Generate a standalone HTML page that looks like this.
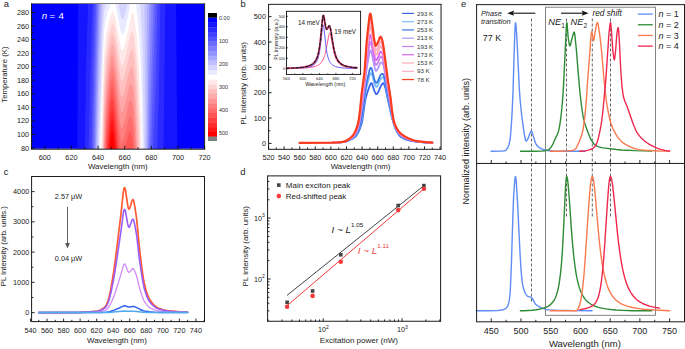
<!DOCTYPE html>
<html><head><meta charset="utf-8"><style>html,body{margin:0;padding:0;background:#fff;overflow:hidden}svg{display:block}</style></head>
<body>
<svg width="685" height="349" viewBox="0 0 685 349" font-family='"Liberation Sans", sans-serif'>
<rect width="685" height="349" fill="#fff"/>
<clipPath id="ca"><rect x="32" y="4" width="172.2" height="144.8"/></clipPath>
<g clip-path="url(#ca)">
<rect x="31.5" y="3.5" width="173.1" height="145.7" fill="#0000ff"/>
<path d="M177.0,151.0 L77.3,151.0 L78.2,1.5 L176.0,1.5 L177.3,148.0 L177.3,151.0 L177.0,151.0Z" fill="#1515ff"/>
<path d="M163.5,151.0 L84.8,151.0 L86.2,67.5 L88.1,1.5 L165.3,1.5 L163.5,151.0Z" fill="#2a2aff"/>
<path d="M156.5,151.0 L88.6,151.0 L90.1,84.0 L92.6,1.5 L160.4,1.5 L158.4,106.0 L157.0,151.0 L156.5,151.0Z" fill="#3f3fff"/>
<path d="M153.0,151.0 L91.3,151.0 L92.8,75.0 L94.7,1.5 L157.7,1.5 L155.9,79.0 L153.0,151.0Z" fill="#5555ff"/>
<path d="M151.0,151.0 L92.8,151.0 L94.2,78.5 L96.3,1.5 L155.5,1.5 L151.0,151.0Z" fill="#6a6aff"/>
<path d="M149.5,151.0 L93.9,151.0 L95.4,77.5 L97.5,1.5 L153.5,1.5 L149.5,151.0Z" fill="#7f7fff"/>
<path d="M148.5,151.0 L95.0,151.0 L96.1,92.0 L98.5,1.5 L151.5,1.5 L149.5,78.5 L148.5,151.0Z" fill="#9494ff"/>
<path d="M147.5,151.0 L95.8,151.0 L96.9,96.5 L99.7,1.5 L149.4,1.5 L148.4,55.5 L147.5,151.0Z" fill="#aaaaff"/>
<path d="M146.5,151.0 L96.6,151.0 L98.5,77.5 L101.0,1.5 L147.2,1.5 L146.5,151.0Z" fill="#bfbfff"/>
<path d="M145.0,151.0 L97.5,151.0 L99.6,80.0 L102.6,1.5 L122.0,1.5 L122.0,3.5 L122.5,4.1 L123.0,4.2 L123.6,3.5 L123.6,1.5 L144.5,1.5 L145.3,113.5 L145.4,151.0 L145.0,151.0Z" fill="#d4d4ff"/>
<path d="M144.0,151.0 L98.7,151.0 L102.7,31.5 L104.0,12.5 L105.7,3.5 L105.7,1.5 L118.1,1.5 L118.1,3.5 L120.5,14.4 L121.5,18.0 L122.5,19.5 L123.5,18.7 L125.0,14.4 L127.6,3.5 L127.6,1.5 L140.1,1.5 L141.6,24.5 L142.6,52.5 L144.0,151.0Z" fill="#e9e9ff"/>
<path d="M142.5,151.0 L99.9,151.0 L102.3,73.0 L104.0,34.0 L104.9,24.5 L106.0,18.5 L108.4,10.0 L111.0,3.5 L111.0,1.5 L114.9,1.5 L114.9,3.5 L116.2,8.0 L120.5,30.2 L121.5,33.7 L122.5,34.9 L123.0,34.7 L124.0,32.7 L125.5,27.4 L128.0,16.4 L130.5,3.5 L130.5,1.5 L135.8,1.5 L138.7,28.5 L140.4,56.0 L141.8,101.5 L142.5,151.0Z" fill="#ffffff"/>
<path d="M141.0,151.0 L101.1,151.0 L103.3,74.5 L104.7,45.5 L105.9,35.0 L107.6,26.0 L109.8,18.0 L111.5,13.1 L112.5,11.5 L113.0,11.6 L113.9,13.0 L115.5,17.6 L120.5,46.0 L121.5,49.5 L122.5,50.3 L123.5,49.0 L125.0,44.3 L131.5,15.1 L132.5,12.3 L133.0,12.5 L134.0,15.8 L136.6,35.0 L139.0,68.5 L140.9,121.0 L141.4,148.0 L141.4,151.0 L141.0,151.0Z" fill="#ffe9e9"/>
<path d="M140.0,151.0 L102.0,151.0 L103.6,89.5 L105.0,60.5 L106.3,48.0 L108.0,37.3 L110.7,26.5 L111.5,23.9 L112.5,22.4 L113.0,22.6 L113.7,24.0 L115.5,30.1 L120.5,61.8 L121.0,64.0 L122.0,65.8 L123.0,65.1 L124.5,61.1 L129.5,39.1 L131.5,32.4 L132.5,30.8 L133.5,33.3 L135.9,52.5 L138.0,82.5 L139.7,126.0 L140.3,148.0 L140.3,151.0 L140.0,151.0Z" fill="#ffd4d4"/>
<path d="M139.0,151.0 L102.8,151.0 L104.0,101.0 L105.5,71.7 L106.9,58.0 L108.7,46.5 L111.0,36.3 L112.0,33.7 L112.5,33.3 L113.7,35.5 L115.5,42.6 L120.5,77.6 L121.0,79.9 L122.0,81.3 L123.0,80.4 L124.5,76.1 L130.0,53.0 L132.0,49.2 L132.5,49.4 L133.0,50.5 L134.8,64.0 L136.6,88.0 L138.5,126.8 L139.2,148.0 L139.0,151.0Z" fill="#ffbfbf"/>
<path d="M138.0,151.0 L103.4,151.0 L104.5,108.4 L106.1,81.0 L107.5,67.2 L109.4,54.5 L111.0,47.1 L112.0,44.5 L112.5,44.2 L113.6,46.5 L115.5,55.2 L120.0,90.2 L121.0,95.8 L121.5,96.8 L122.0,96.9 L122.5,96.5 L124.0,92.8 L130.0,68.8 L131.5,67.0 L132.5,67.9 L133.0,69.6 L134.5,81.8 L135.8,99.5 L138.0,151.0Z" fill="#ffaaaa"/>
<path d="M136.5,151.0 L104.0,151.0 L105.0,115.1 L106.7,89.0 L109.9,63.5 L111.5,56.3 L112.0,55.3 L112.5,55.1 L113.5,57.5 L115.5,67.7 L120.0,105.8 L121.0,111.6 L121.5,112.5 L122.5,111.9 L124.0,107.9 L129.0,87.1 L130.0,84.5 L131.0,84.0 L131.5,84.2 L132.5,86.4 L134.0,96.9 L135.2,113.0 L136.9,148.0 L136.9,151.0 L136.5,151.0Z" fill="#ff9494"/>
<path d="M135.5,151.0 L104.5,151.0 L105.4,124.0 L107.0,99.8 L109.7,76.0 L111.0,68.9 L112.0,66.0 L112.5,66.0 L113.5,68.6 L115.5,80.2 L120.0,121.5 L121.0,127.5 L121.5,128.3 L122.5,127.3 L123.5,124.6 L126.0,115.5 L128.5,104.1 L130.0,100.2 L131.0,100.6 L132.0,103.0 L133.2,109.0 L134.4,122.0 L135.8,148.0 L135.8,151.0 L135.5,151.0Z" fill="#ff7f7f"/>
<path d="M134.5,151.0 L105.1,151.0 L106.0,129.5 L107.5,108.1 L110.0,85.7 L111.0,79.8 L112.0,76.8 L112.5,76.8 L113.5,79.9 L115.5,92.7 L118.5,123.6 L121.0,143.4 L121.5,144.0 L122.0,143.6 L123.0,141.3 L126.0,130.6 L128.5,119.2 L129.5,116.4 L130.0,116.0 L130.8,117.0 L131.5,118.8 L133.0,126.7 L134.5,145.0 L134.5,151.0Z" fill="#ff6a6a"/>
<path d="M119.5,151.0 L105.9,151.0 L106.6,134.0 L108.2,114.0 L110.4,94.5 L111.0,90.7 L112.0,87.6 L112.5,87.7 L113.5,91.2 L115.5,105.3 L119.5,148.0 L119.5,151.0ZM133.0,151.0 L125.4,151.0 L125.4,148.0 L128.5,134.2 L129.5,131.8 L130.0,131.7 L130.5,132.5 L131.8,137.5 L133.2,148.0 L133.0,151.0Z" fill="#ff5555"/>
<path d="M118.0,151.0 L106.7,151.0 L107.5,135.3 L109.4,113.5 L111.0,101.6 L112.0,98.4 L112.5,98.6 L113.5,102.5 L115.5,117.8 L118.0,148.0 L118.0,151.0ZM130.0,151.0 L129.0,151.0 L129.0,148.0 L129.5,147.3 L130.2,148.0 L130.0,151.0Z" fill="#ff3f3f"/>
<path d="M116.5,151.0 L107.6,151.0 L110.0,119.9 L111.0,112.5 L112.0,109.2 L112.5,109.5 L113.5,113.8 L115.5,130.3 L117.0,148.0 L117.0,151.0 L116.5,151.0Z" fill="#ff2a2a"/>
<path d="M115.5,151.0 L108.6,151.0 L110.0,131.0 L111.0,123.4 L112.0,120.0 L112.5,120.4 L113.0,122.2 L114.2,130.5 L116.0,148.0 L116.0,151.0 L115.5,151.0Z" fill="#ff1515"/>
<path d="M114.5,151.0 L109.5,151.0 L110.5,138.0 L111.5,131.8 L112.0,130.8 L112.8,132.5 L113.6,137.0 L114.8,148.0 L114.8,151.0 L114.5,151.0Z" fill="#ff0000"/>
</g>
<line x1="31" y1="3.5" x2="205.1" y2="3.5" stroke="#7a7a7a" stroke-width="1.0"/>
<line x1="31" y1="149.2" x2="205.1" y2="149.2" stroke="#1a1a1a" stroke-width="1.0"/>
<line x1="31.5" y1="3.5" x2="31.5" y2="149.2" stroke="#1a1a1a" stroke-width="1.0"/>
<line x1="204.6" y1="3.5" x2="204.6" y2="149.2" stroke="#1a1a1a" stroke-width="1.0"/>
<line x1="31.5" y1="148" x2="35" y2="148" stroke="#111" stroke-width="0.9"/>
<line x1="31.5" y1="141.22" x2="33.5" y2="141.22" stroke="#111" stroke-width="0.9"/>
<line x1="31.5" y1="134.44" x2="35" y2="134.44" stroke="#111" stroke-width="0.9"/>
<line x1="31.5" y1="127.66" x2="33.5" y2="127.66" stroke="#111" stroke-width="0.9"/>
<line x1="31.5" y1="120.88" x2="35" y2="120.88" stroke="#111" stroke-width="0.9"/>
<line x1="31.5" y1="114.1" x2="33.5" y2="114.1" stroke="#111" stroke-width="0.9"/>
<line x1="31.5" y1="107.32" x2="35" y2="107.32" stroke="#111" stroke-width="0.9"/>
<line x1="31.5" y1="100.54" x2="33.5" y2="100.54" stroke="#111" stroke-width="0.9"/>
<line x1="31.5" y1="93.76" x2="35" y2="93.76" stroke="#111" stroke-width="0.9"/>
<line x1="31.5" y1="86.98" x2="33.5" y2="86.98" stroke="#111" stroke-width="0.9"/>
<line x1="31.5" y1="80.2" x2="35" y2="80.2" stroke="#111" stroke-width="0.9"/>
<line x1="31.5" y1="73.42" x2="33.5" y2="73.42" stroke="#111" stroke-width="0.9"/>
<line x1="31.5" y1="66.64" x2="35" y2="66.64" stroke="#111" stroke-width="0.9"/>
<line x1="31.5" y1="59.86" x2="33.5" y2="59.86" stroke="#111" stroke-width="0.9"/>
<line x1="31.5" y1="53.08" x2="35" y2="53.08" stroke="#111" stroke-width="0.9"/>
<line x1="31.5" y1="46.3" x2="33.5" y2="46.3" stroke="#111" stroke-width="0.9"/>
<line x1="31.5" y1="39.52" x2="35" y2="39.52" stroke="#111" stroke-width="0.9"/>
<line x1="31.5" y1="32.74" x2="33.5" y2="32.74" stroke="#111" stroke-width="0.9"/>
<line x1="31.5" y1="25.96" x2="35" y2="25.96" stroke="#111" stroke-width="0.9"/>
<line x1="31.5" y1="19.18" x2="33.5" y2="19.18" stroke="#111" stroke-width="0.9"/>
<line x1="31.5" y1="12.4" x2="35" y2="12.4" stroke="#111" stroke-width="0.9"/>
<line x1="31.5" y1="149.2" x2="31.5" y2="147.2" stroke="#111" stroke-width="0.9"/>
<line x1="44.82" y1="149.2" x2="44.82" y2="145.7" stroke="#111" stroke-width="0.9"/>
<line x1="58.13" y1="149.2" x2="58.13" y2="147.2" stroke="#111" stroke-width="0.9"/>
<line x1="71.45" y1="149.2" x2="71.45" y2="145.7" stroke="#111" stroke-width="0.9"/>
<line x1="84.76" y1="149.2" x2="84.76" y2="147.2" stroke="#111" stroke-width="0.9"/>
<line x1="98.08" y1="149.2" x2="98.08" y2="145.7" stroke="#111" stroke-width="0.9"/>
<line x1="111.39" y1="149.2" x2="111.39" y2="147.2" stroke="#111" stroke-width="0.9"/>
<line x1="124.71" y1="149.2" x2="124.71" y2="145.7" stroke="#111" stroke-width="0.9"/>
<line x1="138.02" y1="149.2" x2="138.02" y2="147.2" stroke="#111" stroke-width="0.9"/>
<line x1="151.34" y1="149.2" x2="151.34" y2="145.7" stroke="#111" stroke-width="0.9"/>
<line x1="164.65" y1="149.2" x2="164.65" y2="147.2" stroke="#111" stroke-width="0.9"/>
<line x1="177.97" y1="149.2" x2="177.97" y2="145.7" stroke="#111" stroke-width="0.9"/>
<line x1="191.28" y1="149.2" x2="191.28" y2="147.2" stroke="#111" stroke-width="0.9"/>
<line x1="204.6" y1="149.2" x2="204.6" y2="145.7" stroke="#111" stroke-width="0.9"/>
<text x="29.2" y="150.6" font-size="7.3" text-anchor="end" fill="#222">80</text>
<text x="29.2" y="137.04" font-size="7.3" text-anchor="end" fill="#222">100</text>
<text x="29.2" y="123.48" font-size="7.3" text-anchor="end" fill="#222">120</text>
<text x="29.2" y="109.92" font-size="7.3" text-anchor="end" fill="#222">140</text>
<text x="29.2" y="96.36" font-size="7.3" text-anchor="end" fill="#222">160</text>
<text x="29.2" y="82.8" font-size="7.3" text-anchor="end" fill="#222">180</text>
<text x="29.2" y="69.24" font-size="7.3" text-anchor="end" fill="#222">200</text>
<text x="29.2" y="55.68" font-size="7.3" text-anchor="end" fill="#222">220</text>
<text x="29.2" y="42.12" font-size="7.3" text-anchor="end" fill="#222">240</text>
<text x="29.2" y="28.56" font-size="7.3" text-anchor="end" fill="#222">260</text>
<text x="29.2" y="15" font-size="7.3" text-anchor="end" fill="#222">280</text>
<text x="44.82" y="159.8" font-size="7.3" text-anchor="middle" fill="#222">600</text>
<text x="71.45" y="159.8" font-size="7.3" text-anchor="middle" fill="#222">620</text>
<text x="98.08" y="159.8" font-size="7.3" text-anchor="middle" fill="#222">640</text>
<text x="124.71" y="159.8" font-size="7.3" text-anchor="middle" fill="#222">660</text>
<text x="151.34" y="159.8" font-size="7.3" text-anchor="middle" fill="#222">680</text>
<text x="177.97" y="159.8" font-size="7.3" text-anchor="middle" fill="#222">700</text>
<text x="204.6" y="159.8" font-size="7.3" text-anchor="middle" fill="#222">720</text>
<text x="117.8" y="168.9" font-size="7.9" text-anchor="middle" fill="#222">Wavelength (nm)</text>
<text transform="translate(6.6,74.6) rotate(-90)" font-size="7.8" text-anchor="middle" fill="#222">Temperature (K)</text>
<text x="3.8" y="7.2" font-size="9.4" text-anchor="start" fill="#222">a</text>
<text x="41.7" y="19.2" font-size="9.7" fill="#fff"><tspan font-style="italic">n</tspan><tspan x="49.4">=</tspan><tspan x="58.4">4</tspan></text>
<rect x="208" y="13" width="9" height="4.8" fill="#000"/>
<rect x="208" y="17.8" width="9" height="5.05" fill="#0000ff"/>
<rect x="208" y="22.55" width="9" height="5.05" fill="#1515ff"/>
<rect x="208" y="27.3" width="9" height="5.05" fill="#2a2aff"/>
<rect x="208" y="32.06" width="9" height="5.05" fill="#3f3fff"/>
<rect x="208" y="36.81" width="9" height="5.05" fill="#5555ff"/>
<rect x="208" y="41.56" width="9" height="5.05" fill="#6a6aff"/>
<rect x="208" y="46.31" width="9" height="5.05" fill="#7f7fff"/>
<rect x="208" y="51.06" width="9" height="5.05" fill="#9494ff"/>
<rect x="208" y="55.82" width="9" height="5.05" fill="#aaaaff"/>
<rect x="208" y="60.57" width="9" height="5.05" fill="#bfbfff"/>
<rect x="208" y="65.32" width="9" height="5.05" fill="#d4d4ff"/>
<rect x="208" y="70.07" width="9" height="5.05" fill="#e9e9ff"/>
<rect x="208" y="74.82" width="9" height="5.05" fill="#ffffff"/>
<rect x="208" y="79.58" width="9" height="5.05" fill="#ffe9e9"/>
<rect x="208" y="84.33" width="9" height="5.05" fill="#ffd4d4"/>
<rect x="208" y="89.08" width="9" height="5.05" fill="#ffbfbf"/>
<rect x="208" y="93.83" width="9" height="5.05" fill="#ffaaaa"/>
<rect x="208" y="98.58" width="9" height="5.05" fill="#ff9494"/>
<rect x="208" y="103.34" width="9" height="5.05" fill="#ff7f7f"/>
<rect x="208" y="108.09" width="9" height="5.05" fill="#ff6a6a"/>
<rect x="208" y="112.84" width="9" height="5.05" fill="#ff5555"/>
<rect x="208" y="117.59" width="9" height="5.05" fill="#ff3f3f"/>
<rect x="208" y="122.34" width="9" height="5.05" fill="#ff2a2a"/>
<rect x="208" y="127.1" width="9" height="5.05" fill="#ff1515"/>
<rect x="208" y="131.85" width="9" height="5.05" fill="#ff0000"/>
<rect x="208" y="136.6" width="9" height="4.4" fill="#808080"/>
<text x="219" y="19.5" font-size="5.5" text-anchor="start" fill="#333">0.00</text>
<text x="219" y="42.58" font-size="5.5" text-anchor="start" fill="#333">100</text>
<text x="219" y="65.66" font-size="5.5" text-anchor="start" fill="#333">200</text>
<text x="219" y="88.74" font-size="5.5" text-anchor="start" fill="#333">300</text>
<text x="219" y="111.82" font-size="5.5" text-anchor="start" fill="#333">400</text>
<text x="219" y="134.9" font-size="5.5" text-anchor="start" fill="#333">500</text>
<path d="M299.70,143.15 L331.68,142.88 L337.14,142.63 L342.60,142.13 L345.72,141.56 L348.84,140.54 L351.96,139.03 L355.08,137.00 L355.86,136.28 L356.64,135.30 L358.20,132.61 L359.76,129.03 L361.32,124.62 L361.71,123.30 L362.49,119.31 L364.83,102.81 L365.61,98.44 L366.78,94.18 L369.51,86.23 L370.68,83.83 L371.07,83.28 L371.46,83.07 L371.85,83.43 L372.24,84.33 L374.58,91.43 L375.75,93.61 L376.14,94.05 L376.53,94.22 L376.92,94.04 L377.70,92.90 L378.87,90.65 L380.43,86.82 L381.99,84.29 L382.77,83.38 L383.16,83.13 L383.55,83.08 L383.94,83.57 L384.33,84.57 L385.50,88.52 L390.96,113.68 L391.74,116.78 L393.69,123.54 L395.25,128.11 L396.42,130.72 L398.37,134.03 L399.54,135.60 L400.32,136.43 L401.88,137.57 L404.22,138.84 L406.17,139.63 L408.51,140.28 L414.36,141.30 L420.21,142.06 L426.06,142.59 L432.30,142.89" fill="none" stroke="#3c64f0" stroke-width="1.8" stroke-linejoin="round" stroke-linecap="round"/>
<path d="M299.70,143.11 L331.68,142.84 L337.53,142.56 L342.99,142.05 L344.55,141.77 L346.11,141.36 L347.67,140.82 L349.23,140.15 L350.79,139.35 L352.35,138.40 L353.91,137.24 L355.08,136.21 L355.86,135.33 L356.64,134.20 L357.42,132.81 L358.20,131.15 L359.37,127.81 L360.54,123.66 L361.71,118.79 L362.49,114.50 L365.22,94.75 L365.61,92.11 L366.39,87.91 L367.56,83.01 L369.51,75.73 L370.29,73.93 L370.68,73.41 L371.07,73.21 L371.46,73.41 L371.85,74.15 L372.24,75.32 L374.19,82.79 L374.58,83.96 L375.36,85.80 L375.75,86.44 L376.14,86.79 L376.53,86.86 L376.92,86.60 L377.31,86.07 L378.48,83.89 L380.04,80.13 L380.82,78.71 L381.60,77.89 L382.38,77.33 L382.77,77.23 L383.16,77.34 L383.55,77.69 L383.94,78.54 L384.33,79.85 L385.50,84.55 L391.35,113.71 L392.13,117.18 L393.30,121.71 L394.47,125.56 L396.03,129.52 L397.98,132.97 L399.54,135.11 L400.32,135.94 L401.10,136.58 L403.44,138.03 L406.17,139.26 L408.90,140.08 L413.58,141.05 L419.43,141.90 L426.06,142.53 L432.30,142.85" fill="none" stroke="#78befa" stroke-width="1.8" stroke-linejoin="round" stroke-linecap="round"/>
<path d="M299.70,143.09 L332.07,142.81 L337.53,142.54 L342.99,142.03 L344.55,141.74 L346.11,141.31 L347.67,140.73 L349.62,139.83 L351.57,138.71 L352.74,137.90 L353.91,136.93 L355.08,135.79 L355.86,134.83 L356.64,133.61 L357.42,132.14 L358.20,130.37 L358.98,128.01 L360.15,123.65 L361.71,116.38 L362.49,111.93 L363.66,103.76 L365.61,88.74 L366.78,81.89 L369.51,70.13 L369.90,69.01 L370.29,68.25 L370.68,67.85 L371.07,67.84 L371.46,68.26 L371.85,69.20 L372.24,70.51 L373.80,77.15 L374.58,79.97 L375.36,81.98 L375.75,82.61 L376.14,82.91 L376.53,82.93 L376.92,82.63 L377.31,82.08 L378.87,79.02 L380.04,76.09 L380.43,75.30 L380.82,74.76 L381.60,74.16 L382.38,73.88 L382.77,73.94 L383.16,74.25 L383.55,74.82 L383.94,75.86 L384.33,77.33 L385.50,82.43 L388.23,96.95 L391.74,114.89 L393.30,121.43 L394.47,125.35 L396.03,129.28 L397.59,132.11 L399.15,134.37 L400.71,136.02 L403.05,137.58 L405.78,138.91 L408.90,139.93 L413.58,140.99 L419.04,141.81 L425.67,142.47 L432.30,142.83" fill="none" stroke="#3c78e6" stroke-width="1.8" stroke-linejoin="round" stroke-linecap="round"/>
<path d="M299.70,143.02 L332.07,142.75 L337.53,142.48 L342.99,141.96 L344.55,141.64 L346.11,141.14 L347.67,140.47 L349.62,139.41 L351.18,138.40 L352.35,137.51 L353.52,136.39 L354.69,135.00 L355.47,133.89 L356.25,132.54 L357.81,129.06 L358.59,126.52 L359.76,121.01 L362.49,103.92 L363.66,95.70 L364.83,86.14 L366.00,74.46 L367.17,65.91 L369.51,52.64 L369.90,51.26 L370.29,50.51 L370.68,50.47 L371.07,51.06 L371.46,52.17 L371.85,53.72 L372.63,57.47 L374.19,65.97 L374.97,68.91 L375.36,70.04 L375.75,70.66 L376.14,70.81 L376.53,70.66 L376.92,70.23 L378.48,67.29 L380.04,63.45 L380.43,62.77 L380.82,62.43 L381.21,62.38 L381.60,62.51 L382.38,63.12 L382.77,63.68 L383.16,64.60 L383.94,67.48 L385.50,75.81 L387.84,90.08 L390.57,105.22 L391.74,112.83 L392.91,118.80 L394.08,123.50 L394.86,125.78 L396.03,128.56 L396.81,130.05 L397.98,131.97 L398.76,133.07 L399.93,134.46 L400.71,135.21 L401.88,136.10 L403.44,137.08 L405.39,138.11 L406.95,138.79 L408.90,139.47 L413.19,140.70 L418.26,141.58 L425.28,142.34 L432.30,142.77" fill="none" stroke="#b496fa" stroke-width="1.8" stroke-linejoin="round" stroke-linecap="round"/>
<path d="M299.70,142.99 L332.07,142.72 L337.53,142.46 L342.99,141.93 L344.55,141.59 L346.11,141.06 L347.67,140.34 L349.62,139.21 L351.18,138.14 L352.35,137.19 L353.52,135.96 L354.69,134.43 L355.47,133.20 L356.25,131.72 L357.81,127.99 L358.59,125.20 L359.76,119.01 L364.05,88.80 L364.83,81.97 L366.00,68.86 L367.17,59.13 L369.12,46.36 L369.51,44.24 L369.90,42.74 L370.29,41.99 L370.68,42.12 L371.07,43.01 L371.46,44.45 L372.63,50.46 L374.19,59.85 L374.97,63.08 L375.36,64.31 L375.75,64.93 L376.14,64.99 L376.53,64.77 L377.31,63.60 L378.48,61.26 L380.04,57.38 L380.43,56.76 L380.82,56.51 L381.21,56.60 L381.60,56.92 L382.38,57.95 L382.77,58.76 L383.16,59.97 L383.94,63.46 L385.50,72.63 L387.84,87.76 L390.57,103.54 L391.74,111.85 L392.91,118.27 L394.08,123.18 L394.86,125.45 L396.03,128.22 L397.59,131.02 L398.37,132.17 L399.54,133.64 L400.71,134.82 L401.88,135.73 L403.44,136.74 L405.39,137.80 L407.34,138.67 L409.29,139.37 L413.19,140.59 L417.87,141.46 L424.89,142.26 L432.30,142.74" fill="none" stroke="#c882f0" stroke-width="1.8" stroke-linejoin="round" stroke-linecap="round"/>
<path d="M299.70,142.97 L332.07,142.69 L337.53,142.43 L342.99,141.90 L344.55,141.55 L346.11,140.99 L347.67,140.23 L349.62,139.05 L351.18,137.92 L352.35,136.92 L353.52,135.61 L354.69,133.95 L356.25,131.04 L357.81,127.09 L358.59,124.10 L359.76,117.34 L360.15,114.77 L361.32,105.09 L363.27,91.48 L364.44,82.22 L364.83,78.49 L366.00,64.19 L367.17,53.49 L369.12,39.53 L369.51,37.25 L369.90,35.63 L370.29,34.90 L370.68,35.17 L371.07,36.29 L371.46,38.01 L372.63,44.62 L373.80,52.62 L374.19,54.76 L374.97,58.23 L375.36,59.53 L375.75,60.14 L376.14,60.15 L376.53,59.86 L376.92,59.32 L378.48,56.23 L379.65,53.18 L380.04,52.33 L380.43,51.75 L380.82,51.58 L381.21,51.79 L381.60,52.26 L382.38,53.65 L382.77,54.65 L383.55,57.92 L383.94,60.11 L385.50,69.98 L387.84,85.83 L390.57,102.13 L391.74,111.03 L392.91,117.82 L393.69,121.45 L394.47,124.12 L395.64,127.09 L396.81,129.42 L397.59,130.72 L398.76,132.38 L399.93,133.74 L401.10,134.82 L402.66,135.96 L404.61,137.13 L406.56,138.11 L408.51,138.91 L412.80,140.40 L417.48,141.35 L424.89,142.22 L432.30,142.72" fill="none" stroke="#dc64f5" stroke-width="1.8" stroke-linejoin="round" stroke-linecap="round"/>
<path d="M299.70,142.94 L332.07,142.66 L337.92,142.38 L342.99,141.87 L344.55,141.51 L346.11,140.91 L347.67,140.12 L349.23,139.14 L351.18,137.68 L352.35,136.62 L353.52,135.22 L354.30,134.07 L355.47,131.98 L356.25,130.29 L357.81,126.10 L358.59,122.89 L359.37,118.17 L360.15,112.69 L361.71,98.91 L363.66,85.07 L364.44,78.57 L364.83,74.67 L366.00,59.06 L366.78,50.87 L367.56,43.98 L369.51,29.55 L369.90,27.82 L370.29,27.09 L370.68,27.52 L371.07,28.91 L371.46,30.93 L372.63,38.20 L373.80,46.88 L374.58,51.08 L375.36,54.28 L375.75,54.89 L376.14,54.82 L376.53,54.46 L376.92,53.86 L378.48,50.70 L379.65,47.60 L380.04,46.76 L380.43,46.24 L380.82,46.15 L381.21,46.49 L381.60,47.14 L382.38,48.91 L382.77,50.14 L383.16,51.86 L383.94,56.42 L387.84,83.70 L390.57,100.58 L391.74,110.12 L392.52,115.14 L393.30,119.34 L394.08,122.63 L395.25,125.86 L396.42,128.39 L397.59,130.39 L398.76,132.03 L399.93,133.38 L401.10,134.47 L402.66,135.64 L404.61,136.84 L406.56,137.85 L408.51,138.70 L412.80,140.30 L417.09,141.22 L420.21,141.67 L424.50,142.14 L432.30,142.69" fill="none" stroke="#ffaab4" stroke-width="1.8" stroke-linejoin="round" stroke-linecap="round"/>
<path d="M299.70,142.92 L332.07,142.64 L337.92,142.36 L342.99,141.85 L344.55,141.47 L346.11,140.85 L347.67,140.02 L349.23,139.00 L351.18,137.49 L352.35,136.38 L353.52,134.91 L354.30,133.69 L355.47,131.46 L356.25,129.68 L357.81,125.29 L358.59,121.90 L359.37,116.85 L360.15,110.99 L361.71,96.20 L363.66,82.17 L364.44,75.59 L364.83,71.55 L366.39,50.22 L367.56,38.66 L369.51,23.25 L369.90,21.43 L370.29,20.70 L370.68,21.27 L371.07,22.87 L372.63,32.95 L373.80,42.18 L374.58,46.60 L375.36,49.98 L375.75,50.58 L376.14,50.46 L376.53,50.04 L378.48,46.17 L379.65,43.03 L380.04,42.21 L380.43,41.73 L380.82,41.71 L381.21,42.16 L381.60,42.94 L382.38,45.04 L382.77,46.45 L383.16,48.39 L383.94,53.41 L387.84,81.96 L390.57,99.32 L391.74,109.38 L392.52,114.64 L393.30,119.02 L394.08,122.39 L395.25,125.62 L396.42,128.13 L397.59,130.13 L398.76,131.75 L400.32,133.48 L401.88,134.81 L403.44,135.89 L405.78,137.25 L407.73,138.18 L411.24,139.65 L412.80,140.22 L413.97,140.53 L418.65,141.42 L425.67,142.21 L432.30,142.66" fill="none" stroke="#ffaac8" stroke-width="1.8" stroke-linejoin="round" stroke-linecap="round"/>
<path d="M299.70,142.89 L332.07,142.62 L337.92,142.33 L342.99,141.82 L344.55,141.43 L346.11,140.79 L347.67,139.92 L349.23,138.85 L351.18,137.27 L352.35,136.11 L353.52,134.55 L354.30,133.26 L355.47,130.88 L356.25,128.99 L357.81,124.39 L358.20,122.88 L358.59,120.80 L359.37,115.39 L360.15,109.10 L361.71,93.19 L363.66,78.95 L364.44,72.27 L364.83,68.07 L366.39,45.20 L367.56,32.74 L369.51,16.26 L369.90,14.33 L370.29,13.61 L370.68,14.31 L371.07,16.15 L372.63,27.11 L373.80,36.97 L374.58,41.61 L375.36,45.20 L375.75,45.80 L376.14,45.62 L376.53,45.14 L378.48,41.14 L379.65,37.96 L380.04,37.16 L380.43,36.72 L380.82,36.78 L381.21,37.34 L381.99,39.46 L382.77,42.34 L383.55,47.14 L387.84,80.03 L390.57,97.91 L391.74,108.56 L392.52,114.10 L393.30,118.66 L394.08,122.12 L394.86,124.37 L396.03,127.06 L397.20,129.21 L398.37,130.93 L399.93,132.75 L401.49,134.19 L403.44,135.60 L405.78,137.00 L407.73,137.97 L411.24,139.52 L412.80,140.13 L413.97,140.46 L418.65,141.36 L425.67,142.17 L432.30,142.64" fill="none" stroke="#f83c1e" stroke-width="2.2" stroke-linejoin="round" stroke-linecap="round"/>
<line x1="268.1" y1="4.35" x2="441.55" y2="4.35" stroke="#1a1a1a" stroke-width="1.0"/>
<line x1="268.1" y1="149.3" x2="441.55" y2="149.3" stroke="#1a1a1a" stroke-width="1.0"/>
<line x1="268.6" y1="4.35" x2="268.6" y2="149.3" stroke="#1a1a1a" stroke-width="1.0"/>
<line x1="441.05" y1="4.35" x2="441.05" y2="149.3" stroke="#1a1a1a" stroke-width="1.0"/>
<line x1="268.6" y1="143.4" x2="271.6" y2="143.4" stroke="#111" stroke-width="0.9"/>
<line x1="268.6" y1="130.72" x2="270.4" y2="130.72" stroke="#111" stroke-width="0.9"/>
<line x1="268.6" y1="118.05" x2="271.6" y2="118.05" stroke="#111" stroke-width="0.9"/>
<line x1="268.6" y1="105.38" x2="270.4" y2="105.38" stroke="#111" stroke-width="0.9"/>
<line x1="268.6" y1="92.7" x2="271.6" y2="92.7" stroke="#111" stroke-width="0.9"/>
<line x1="268.6" y1="80.03" x2="270.4" y2="80.03" stroke="#111" stroke-width="0.9"/>
<line x1="268.6" y1="67.35" x2="271.6" y2="67.35" stroke="#111" stroke-width="0.9"/>
<line x1="268.6" y1="54.68" x2="270.4" y2="54.68" stroke="#111" stroke-width="0.9"/>
<line x1="268.6" y1="42" x2="271.6" y2="42" stroke="#111" stroke-width="0.9"/>
<line x1="268.6" y1="29.33" x2="270.4" y2="29.33" stroke="#111" stroke-width="0.9"/>
<line x1="268.6" y1="16.65" x2="271.6" y2="16.65" stroke="#111" stroke-width="0.9"/>
<line x1="268.5" y1="149.3" x2="268.5" y2="146.3" stroke="#111" stroke-width="0.9"/>
<line x1="276.3" y1="149.3" x2="276.3" y2="147.5" stroke="#111" stroke-width="0.9"/>
<line x1="284.1" y1="149.3" x2="284.1" y2="146.3" stroke="#111" stroke-width="0.9"/>
<line x1="291.9" y1="149.3" x2="291.9" y2="147.5" stroke="#111" stroke-width="0.9"/>
<line x1="299.7" y1="149.3" x2="299.7" y2="146.3" stroke="#111" stroke-width="0.9"/>
<line x1="307.5" y1="149.3" x2="307.5" y2="147.5" stroke="#111" stroke-width="0.9"/>
<line x1="315.3" y1="149.3" x2="315.3" y2="146.3" stroke="#111" stroke-width="0.9"/>
<line x1="323.1" y1="149.3" x2="323.1" y2="147.5" stroke="#111" stroke-width="0.9"/>
<line x1="330.9" y1="149.3" x2="330.9" y2="146.3" stroke="#111" stroke-width="0.9"/>
<line x1="338.7" y1="149.3" x2="338.7" y2="147.5" stroke="#111" stroke-width="0.9"/>
<line x1="346.5" y1="149.3" x2="346.5" y2="146.3" stroke="#111" stroke-width="0.9"/>
<line x1="354.3" y1="149.3" x2="354.3" y2="147.5" stroke="#111" stroke-width="0.9"/>
<line x1="362.1" y1="149.3" x2="362.1" y2="146.3" stroke="#111" stroke-width="0.9"/>
<line x1="369.9" y1="149.3" x2="369.9" y2="147.5" stroke="#111" stroke-width="0.9"/>
<line x1="377.7" y1="149.3" x2="377.7" y2="146.3" stroke="#111" stroke-width="0.9"/>
<line x1="385.5" y1="149.3" x2="385.5" y2="147.5" stroke="#111" stroke-width="0.9"/>
<line x1="393.3" y1="149.3" x2="393.3" y2="146.3" stroke="#111" stroke-width="0.9"/>
<line x1="401.1" y1="149.3" x2="401.1" y2="147.5" stroke="#111" stroke-width="0.9"/>
<line x1="408.9" y1="149.3" x2="408.9" y2="146.3" stroke="#111" stroke-width="0.9"/>
<line x1="416.7" y1="149.3" x2="416.7" y2="147.5" stroke="#111" stroke-width="0.9"/>
<line x1="424.5" y1="149.3" x2="424.5" y2="146.3" stroke="#111" stroke-width="0.9"/>
<line x1="432.3" y1="149.3" x2="432.3" y2="147.5" stroke="#111" stroke-width="0.9"/>
<line x1="440.1" y1="149.3" x2="440.1" y2="146.3" stroke="#111" stroke-width="0.9"/>
<text x="266" y="146" font-size="7.3" text-anchor="end" fill="#222">0</text>
<text x="266" y="120.65" font-size="7.3" text-anchor="end" fill="#222">100</text>
<text x="266" y="95.3" font-size="7.3" text-anchor="end" fill="#222">200</text>
<text x="266" y="69.95" font-size="7.3" text-anchor="end" fill="#222">300</text>
<text x="266" y="44.6" font-size="7.3" text-anchor="end" fill="#222">400</text>
<text x="266" y="19.25" font-size="7.3" text-anchor="end" fill="#222">500</text>
<text x="268.5" y="159.7" font-size="7.3" text-anchor="middle" fill="#222">520</text>
<text x="284.1" y="159.7" font-size="7.3" text-anchor="middle" fill="#222">540</text>
<text x="299.7" y="159.7" font-size="7.3" text-anchor="middle" fill="#222">560</text>
<text x="315.3" y="159.7" font-size="7.3" text-anchor="middle" fill="#222">580</text>
<text x="330.9" y="159.7" font-size="7.3" text-anchor="middle" fill="#222">600</text>
<text x="346.5" y="159.7" font-size="7.3" text-anchor="middle" fill="#222">620</text>
<text x="362.1" y="159.7" font-size="7.3" text-anchor="middle" fill="#222">640</text>
<text x="377.7" y="159.7" font-size="7.3" text-anchor="middle" fill="#222">660</text>
<text x="393.3" y="159.7" font-size="7.3" text-anchor="middle" fill="#222">680</text>
<text x="408.9" y="159.7" font-size="7.3" text-anchor="middle" fill="#222">700</text>
<text x="424.5" y="159.7" font-size="7.3" text-anchor="middle" fill="#222">720</text>
<text x="440.1" y="159.7" font-size="7.3" text-anchor="middle" fill="#222">740</text>
<text x="360.6" y="168.9" font-size="7.9" text-anchor="middle" fill="#222">Wavelength (nm)</text>
<text transform="translate(246.2,83.4) rotate(-90)" font-size="8.1" text-anchor="middle" fill="#222">PL Intensity (arb. units)</text>
<text x="240.5" y="7" font-size="9.4" text-anchor="start" fill="#222">b</text>
<line x1="402" y1="13.4" x2="414" y2="13.4" stroke="#3c64f0" stroke-width="1.2"/>
<text x="417" y="15.6" font-size="6.2" text-anchor="start" fill="#333">293 K</text>
<line x1="402" y1="21.67" x2="414" y2="21.67" stroke="#78befa" stroke-width="1.2"/>
<text x="417" y="23.87" font-size="6.2" text-anchor="start" fill="#333">273 K</text>
<line x1="402" y1="29.94" x2="414" y2="29.94" stroke="#3c78e6" stroke-width="1.2"/>
<text x="417" y="32.14" font-size="6.2" text-anchor="start" fill="#333">253 K</text>
<line x1="402" y1="38.21" x2="414" y2="38.21" stroke="#b496fa" stroke-width="1.2"/>
<text x="417" y="40.41" font-size="6.2" text-anchor="start" fill="#333">213 K</text>
<line x1="402" y1="46.48" x2="414" y2="46.48" stroke="#c882f0" stroke-width="1.2"/>
<text x="417" y="48.68" font-size="6.2" text-anchor="start" fill="#333">193 K</text>
<line x1="402" y1="54.75" x2="414" y2="54.75" stroke="#dc64f5" stroke-width="1.2"/>
<text x="417" y="56.95" font-size="6.2" text-anchor="start" fill="#333">173 K</text>
<line x1="402" y1="63.02" x2="414" y2="63.02" stroke="#ffaab4" stroke-width="1.2"/>
<text x="417" y="65.22" font-size="6.2" text-anchor="start" fill="#333">153 K</text>
<line x1="402" y1="71.29" x2="414" y2="71.29" stroke="#ffaac8" stroke-width="1.2"/>
<text x="417" y="73.49" font-size="6.2" text-anchor="start" fill="#333">93 K</text>
<line x1="402" y1="79.56" x2="414" y2="79.56" stroke="#f83c1e" stroke-width="1.2"/>
<text x="417" y="81.76" font-size="6.2" text-anchor="start" fill="#333">78 K</text>
<rect x="286.5" y="11.3" width="74.10000000000002" height="63.10000000000001" fill="#fff" stroke="#111" stroke-width="0.9"/>
<path d="M286.50,68.51 L301.12,68.15 L306.07,67.86 L309.98,67.46 L313.07,66.95 L315.74,66.23 L317.80,65.36 L319.66,64.16 L321.10,62.77 L322.34,61.07 L323.37,59.11 L324.39,56.45 L325.22,53.64 L326.04,50.10 L328.72,35.61 L329.34,33.70 L329.54,33.41 L329.75,33.31 L329.96,33.41 L330.16,33.70 L330.78,35.61 L333.25,49.09 L334.49,54.40 L335.31,57.05 L336.13,59.11 L336.96,60.72 L337.99,62.27 L339.22,63.63 L340.66,64.76 L342.31,65.66 L344.17,66.36 L346.43,66.95 L349.31,67.44 L352.61,67.79 L356.73,68.07" fill="none" stroke="#ff4a80" stroke-width="0.9" stroke-linejoin="round" stroke-linecap="round"/>
<path d="M286.50,68.53 L294.12,68.37 L299.68,68.15 L304.01,67.83 L307.30,67.40 L309.98,66.80 L312.24,65.94 L313.89,64.93 L315.33,63.55 L316.57,61.75 L317.60,59.50 L318.42,56.93 L319.25,53.36 L319.86,49.77 L320.48,45.23 L322.34,28.22 L322.75,25.79 L322.95,25.13 L323.16,24.91 L323.37,25.13 L323.57,25.79 L323.98,28.22 L325.84,45.23 L326.45,49.77 L327.07,53.36 L327.90,56.93 L328.72,59.50 L329.75,61.75 L330.78,63.30 L332.01,64.59 L333.66,65.72 L335.72,66.60 L338.19,67.24 L341.28,67.72 L345.20,68.06 L350.14,68.30 L356.73,68.48" fill="none" stroke="#5a50ff" stroke-width="0.9" stroke-linejoin="round" stroke-linecap="round"/>
<path d="M286.50,68.24 L293.50,67.98 L299.06,67.61 L303.39,67.12 L306.68,66.50 L309.57,65.62 L311.83,64.51 L312.86,63.80 L313.69,63.09 L315.13,61.42 L316.36,59.31 L317.39,56.79 L318.22,53.99 L319.04,50.19 L319.86,44.96 L320.48,39.86 L322.54,18.76 L322.95,16.30 L323.16,15.66 L323.37,15.44 L323.57,15.63 L323.98,17.03 L325.42,25.69 L325.84,27.49 L326.25,28.66 L326.66,29.20 L326.87,29.26 L327.28,29.00 L327.69,28.36 L328.72,26.31 L329.13,25.88 L329.34,25.85 L329.54,25.97 L329.75,26.26 L330.16,27.34 L330.99,31.28 L333.25,45.78 L334.28,50.87 L335.10,54.03 L335.93,56.51 L336.75,58.46 L337.78,60.35 L339.02,62.03 L340.46,63.43 L342.11,64.57 L344.17,65.55 L346.43,66.29 L349.31,66.91 L352.61,67.37 L356.73,67.75" fill="none" stroke="#ff4a80" stroke-width="1.9" stroke-linejoin="round" stroke-linecap="round"/>
<path d="M286.50,68.24 L293.50,67.98 L299.06,67.61 L303.39,67.12 L306.68,66.50 L309.57,65.62 L311.83,64.51 L312.86,63.80 L313.69,63.09 L315.13,61.42 L316.36,59.31 L317.39,56.79 L318.22,53.99 L319.04,50.19 L319.86,44.96 L320.48,39.86 L322.54,18.76 L322.95,16.30 L323.16,15.66 L323.37,15.44 L323.57,15.63 L323.98,17.03 L325.42,25.69 L325.84,27.49 L326.25,28.66 L326.66,29.20 L326.87,29.26 L327.28,29.00 L327.69,28.36 L328.72,26.31 L329.13,25.88 L329.34,25.85 L329.54,25.97 L329.75,26.26 L330.16,27.34 L330.99,31.28 L333.25,45.78 L334.28,50.87 L335.10,54.03 L335.93,56.51 L336.75,58.46 L337.78,60.35 L339.02,62.03 L340.46,63.43 L342.11,64.57 L344.17,65.55 L346.43,66.29 L349.31,66.91 L352.61,67.37 L356.73,67.75" fill="none" stroke="#1a1a1a" stroke-width="1.3" stroke-linejoin="round" stroke-linecap="round" stroke-dasharray="3,1.7"/>
<line x1="286.5" y1="68.8" x2="288" y2="68.8" stroke="#111" stroke-width="0.7"/>
<text x="285.2" y="70.2" font-size="3.9" text-anchor="end" fill="#222">0</text>
<line x1="286.5" y1="58.3" x2="288" y2="58.3" stroke="#111" stroke-width="0.7"/>
<text x="285.2" y="59.7" font-size="3.9" text-anchor="end" fill="#222">100</text>
<line x1="286.5" y1="47.8" x2="288" y2="47.8" stroke="#111" stroke-width="0.7"/>
<text x="285.2" y="49.2" font-size="3.9" text-anchor="end" fill="#222">200</text>
<line x1="286.5" y1="37.3" x2="288" y2="37.3" stroke="#111" stroke-width="0.7"/>
<text x="285.2" y="38.7" font-size="3.9" text-anchor="end" fill="#222">300</text>
<line x1="286.5" y1="26.8" x2="288" y2="26.8" stroke="#111" stroke-width="0.7"/>
<text x="285.2" y="28.2" font-size="3.9" text-anchor="end" fill="#222">400</text>
<line x1="286.5" y1="16.3" x2="288" y2="16.3" stroke="#111" stroke-width="0.7"/>
<text x="285.2" y="17.7" font-size="3.9" text-anchor="end" fill="#222">500</text>
<line x1="286.5" y1="74.4" x2="286.5" y2="72.9" stroke="#111" stroke-width="0.7"/>
<line x1="294.74" y1="74.4" x2="294.74" y2="73.5" stroke="#111" stroke-width="0.7"/>
<line x1="302.98" y1="74.4" x2="302.98" y2="72.9" stroke="#111" stroke-width="0.7"/>
<line x1="311.21" y1="74.4" x2="311.21" y2="73.5" stroke="#111" stroke-width="0.7"/>
<line x1="319.45" y1="74.4" x2="319.45" y2="72.9" stroke="#111" stroke-width="0.7"/>
<line x1="327.69" y1="74.4" x2="327.69" y2="73.5" stroke="#111" stroke-width="0.7"/>
<line x1="335.93" y1="74.4" x2="335.93" y2="72.9" stroke="#111" stroke-width="0.7"/>
<line x1="344.17" y1="74.4" x2="344.17" y2="73.5" stroke="#111" stroke-width="0.7"/>
<line x1="352.4" y1="74.4" x2="352.4" y2="72.9" stroke="#111" stroke-width="0.7"/>
<line x1="360.64" y1="74.4" x2="360.64" y2="73.5" stroke="#111" stroke-width="0.7"/>
<text x="286.5" y="79.7" font-size="4.1" text-anchor="middle" fill="#222">560</text>
<text x="302.98" y="79.7" font-size="4.1" text-anchor="middle" fill="#222">600</text>
<text x="319.45" y="79.7" font-size="4.1" text-anchor="middle" fill="#222">640</text>
<text x="335.93" y="79.7" font-size="4.1" text-anchor="middle" fill="#222">680</text>
<text x="352.4" y="79.7" font-size="4.1" text-anchor="middle" fill="#222">720</text>
<text x="325.2" y="86.1" font-size="5.3" text-anchor="middle" fill="#222">Wavelength (nm)</text>
<text transform="translate(277.6,39.5) rotate(-90)" font-size="5.2" text-anchor="middle" fill="#222">PL Intensity (a.u.)</text>
<text x="298" y="25.3" font-size="6.3" text-anchor="start" fill="#222">14 meV</text>
<text x="334.3" y="33.8" font-size="6.3" text-anchor="start" fill="#222">19 meV</text>
<path d="M38.77,312.60 L60.27,312.54 L80.53,312.34 L86.32,312.13 L91.70,311.70 L97.07,311.03 L98.73,310.63 L99.97,310.18 L101.62,309.36 L103.28,308.30 L104.93,306.97 L105.76,305.93 L106.58,304.35 L107.82,301.25 L108.65,298.80 L109.48,295.60 L111.13,287.33 L113.61,272.46 L115.27,260.39 L118.16,237.06 L121.06,212.99 L123.12,193.75 L123.54,190.83 L123.95,188.71 L124.36,187.62 L124.78,187.72 L125.19,188.85 L125.60,190.78 L127.67,204.94 L128.09,207.14 L128.50,208.61 L128.91,209.16 L129.33,208.86 L129.74,208.08 L130.15,206.92 L131.81,201.26 L132.22,200.24 L132.63,199.63 L133.05,199.59 L133.46,200.30 L133.88,201.67 L134.70,205.89 L136.36,216.77 L137.18,224.18 L138.84,242.16 L139.66,250.06 L141.73,267.05 L143.39,278.73 L144.21,283.26 L145.87,289.74 L147.52,294.88 L148.35,296.96 L149.17,298.70 L150.00,300.09 L151.66,302.35 L153.31,304.28 L154.55,305.51 L155.79,306.56 L157.03,307.40 L158.27,308.05 L159.93,308.68 L162.41,309.47 L164.89,310.11 L167.37,310.60 L169.85,310.96 L179.77,311.83 L183.91,312.03 L187.63,312.10" fill="none" stroke="#ff5a32" stroke-width="1.7" stroke-linejoin="round" stroke-linecap="round"/>
<path d="M38.77,312.60 L80.53,312.39 L86.32,312.21 L91.70,311.86 L97.07,311.31 L98.73,310.97 L99.97,310.60 L101.62,309.93 L103.28,309.05 L104.93,307.95 L105.76,307.09 L106.58,305.79 L107.82,303.23 L108.65,301.20 L109.48,298.56 L111.13,291.73 L113.61,279.46 L115.27,269.49 L118.16,250.23 L121.06,230.36 L123.12,214.47 L123.54,212.06 L123.95,210.31 L124.36,209.41 L124.78,209.49 L125.19,210.42 L125.60,212.02 L127.67,223.71 L128.09,225.52 L128.50,226.75 L128.91,227.19 L129.33,226.95 L129.74,226.30 L131.81,220.67 L132.22,219.83 L132.63,219.33 L133.05,219.30 L133.46,219.88 L133.88,221.01 L134.70,224.49 L136.36,233.48 L137.18,239.60 L138.84,254.44 L139.66,260.96 L141.73,274.99 L143.39,284.64 L144.21,288.37 L145.87,293.73 L147.52,297.97 L148.35,299.69 L149.17,301.13 L150.00,302.27 L151.66,304.14 L153.31,305.73 L154.55,306.75 L155.79,307.61 L157.03,308.31 L158.27,308.84 L159.93,309.36 L162.41,310.02 L164.89,310.54 L169.85,311.25 L179.77,311.96 L187.63,312.19" fill="none" stroke="#9a5cf8" stroke-width="1.6" stroke-linejoin="round" stroke-linecap="round"/>
<path d="M38.77,312.60 L80.53,312.50 L91.70,312.25 L97.07,311.99 L99.97,311.66 L103.28,310.93 L104.93,310.41 L105.76,310.00 L106.58,309.39 L107.82,308.19 L108.65,307.23 L109.48,305.98 L111.13,302.77 L113.61,296.98 L115.27,292.28 L118.16,283.21 L121.06,273.84 L123.12,266.35 L123.54,265.22 L123.95,264.39 L124.36,263.97 L124.78,264.01 L125.19,264.45 L125.60,265.20 L127.67,270.71 L128.09,271.56 L128.50,272.14 L128.91,272.35 L129.33,272.23 L129.74,271.93 L131.81,269.28 L132.22,268.88 L132.63,268.64 L133.05,268.63 L133.46,268.90 L133.88,269.43 L134.70,271.08 L136.36,275.31 L137.18,278.20 L138.84,285.19 L139.66,288.26 L141.73,294.88 L143.39,299.42 L144.21,301.18 L145.87,303.71 L147.52,305.71 L149.17,307.19 L151.66,308.61 L154.55,309.84 L157.03,310.58 L159.93,311.07 L164.89,311.63 L169.85,311.96 L179.77,312.30 L187.63,312.41" fill="none" stroke="#d28af8" stroke-width="1.3" stroke-linejoin="round" stroke-linecap="round"/>
<path d="M38.77,312.60 L91.70,312.55 L99.97,312.47 L105.76,312.24 L109.48,311.67 L113.61,310.42 L118.16,308.49 L123.12,306.13 L124.36,305.80 L125.60,305.97 L127.67,306.74 L128.50,306.94 L129.74,306.91 L132.63,306.45 L133.88,306.56 L136.36,307.39 L139.66,309.20 L143.39,310.76 L145.87,311.36 L149.17,311.84 L154.55,312.21 L159.93,312.39 L187.63,312.57" fill="none" stroke="#3264f0" stroke-width="1.5" stroke-linejoin="round" stroke-linecap="round"/>
<path d="M38.77,312.60 L105.76,312.52 L109.48,312.39 L113.61,312.11 L124.36,311.09 L128.50,311.34 L133.88,311.26 L136.36,311.44 L143.39,312.19 L149.17,312.43 L159.93,312.55 L187.63,312.59" fill="none" stroke="#50aaf0" stroke-width="1.5" stroke-linejoin="round" stroke-linecap="round"/>
<line x1="31.1" y1="176.5" x2="205" y2="176.5" stroke="#1a1a1a" stroke-width="1.0"/>
<line x1="31.1" y1="321.6" x2="205" y2="321.6" stroke="#1a1a1a" stroke-width="1.0"/>
<line x1="31.6" y1="176.5" x2="31.6" y2="321.6" stroke="#1a1a1a" stroke-width="1.0"/>
<line x1="204.5" y1="176.5" x2="204.5" y2="321.6" stroke="#1a1a1a" stroke-width="1.0"/>
<line x1="31.6" y1="312.6" x2="34.6" y2="312.6" stroke="#111" stroke-width="0.9"/>
<line x1="31.6" y1="297.48" x2="33.4" y2="297.48" stroke="#111" stroke-width="0.9"/>
<line x1="31.6" y1="282.35" x2="34.6" y2="282.35" stroke="#111" stroke-width="0.9"/>
<line x1="31.6" y1="267.23" x2="33.4" y2="267.23" stroke="#111" stroke-width="0.9"/>
<line x1="31.6" y1="252.1" x2="34.6" y2="252.1" stroke="#111" stroke-width="0.9"/>
<line x1="31.6" y1="236.98" x2="33.4" y2="236.98" stroke="#111" stroke-width="0.9"/>
<line x1="31.6" y1="221.85" x2="34.6" y2="221.85" stroke="#111" stroke-width="0.9"/>
<line x1="31.6" y1="206.73" x2="33.4" y2="206.73" stroke="#111" stroke-width="0.9"/>
<line x1="31.6" y1="191.6" x2="34.6" y2="191.6" stroke="#111" stroke-width="0.9"/>
<line x1="30.5" y1="321.6" x2="30.5" y2="318.6" stroke="#111" stroke-width="0.9"/>
<line x1="38.77" y1="321.6" x2="38.77" y2="319.8" stroke="#111" stroke-width="0.9"/>
<line x1="47.04" y1="321.6" x2="47.04" y2="318.6" stroke="#111" stroke-width="0.9"/>
<line x1="55.31" y1="321.6" x2="55.31" y2="319.8" stroke="#111" stroke-width="0.9"/>
<line x1="63.58" y1="321.6" x2="63.58" y2="318.6" stroke="#111" stroke-width="0.9"/>
<line x1="71.85" y1="321.6" x2="71.85" y2="319.8" stroke="#111" stroke-width="0.9"/>
<line x1="80.12" y1="321.6" x2="80.12" y2="318.6" stroke="#111" stroke-width="0.9"/>
<line x1="88.39" y1="321.6" x2="88.39" y2="319.8" stroke="#111" stroke-width="0.9"/>
<line x1="96.66" y1="321.6" x2="96.66" y2="318.6" stroke="#111" stroke-width="0.9"/>
<line x1="104.93" y1="321.6" x2="104.93" y2="319.8" stroke="#111" stroke-width="0.9"/>
<line x1="113.2" y1="321.6" x2="113.2" y2="318.6" stroke="#111" stroke-width="0.9"/>
<line x1="121.47" y1="321.6" x2="121.47" y2="319.8" stroke="#111" stroke-width="0.9"/>
<line x1="129.74" y1="321.6" x2="129.74" y2="318.6" stroke="#111" stroke-width="0.9"/>
<line x1="138.01" y1="321.6" x2="138.01" y2="319.8" stroke="#111" stroke-width="0.9"/>
<line x1="146.28" y1="321.6" x2="146.28" y2="318.6" stroke="#111" stroke-width="0.9"/>
<line x1="154.55" y1="321.6" x2="154.55" y2="319.8" stroke="#111" stroke-width="0.9"/>
<line x1="162.82" y1="321.6" x2="162.82" y2="318.6" stroke="#111" stroke-width="0.9"/>
<line x1="171.09" y1="321.6" x2="171.09" y2="319.8" stroke="#111" stroke-width="0.9"/>
<line x1="179.36" y1="321.6" x2="179.36" y2="318.6" stroke="#111" stroke-width="0.9"/>
<line x1="187.63" y1="321.6" x2="187.63" y2="319.8" stroke="#111" stroke-width="0.9"/>
<line x1="195.9" y1="321.6" x2="195.9" y2="318.6" stroke="#111" stroke-width="0.9"/>
<line x1="204.17" y1="321.6" x2="204.17" y2="319.8" stroke="#111" stroke-width="0.9"/>
<text x="29.3" y="315.2" font-size="7.3" text-anchor="end" fill="#222">0</text>
<text x="29.3" y="284.95" font-size="7.3" text-anchor="end" fill="#222">1000</text>
<text x="29.3" y="254.7" font-size="7.3" text-anchor="end" fill="#222">2000</text>
<text x="29.3" y="224.45" font-size="7.3" text-anchor="end" fill="#222">3000</text>
<text x="29.3" y="194.2" font-size="7.3" text-anchor="end" fill="#222">4000</text>
<text x="30.5" y="332.8" font-size="7.3" text-anchor="middle" fill="#222">540</text>
<text x="47.04" y="332.8" font-size="7.3" text-anchor="middle" fill="#222">560</text>
<text x="63.58" y="332.8" font-size="7.3" text-anchor="middle" fill="#222">580</text>
<text x="80.12" y="332.8" font-size="7.3" text-anchor="middle" fill="#222">600</text>
<text x="96.66" y="332.8" font-size="7.3" text-anchor="middle" fill="#222">620</text>
<text x="113.2" y="332.8" font-size="7.3" text-anchor="middle" fill="#222">640</text>
<text x="129.74" y="332.8" font-size="7.3" text-anchor="middle" fill="#222">660</text>
<text x="146.28" y="332.8" font-size="7.3" text-anchor="middle" fill="#222">680</text>
<text x="162.82" y="332.8" font-size="7.3" text-anchor="middle" fill="#222">700</text>
<text x="179.36" y="332.8" font-size="7.3" text-anchor="middle" fill="#222">720</text>
<text x="195.9" y="332.8" font-size="7.3" text-anchor="middle" fill="#222">740</text>
<text x="116.9" y="342.8" font-size="7.9" text-anchor="middle" fill="#222">Wavelength (nm)</text>
<text transform="translate(6.2,246.2) rotate(-90)" font-size="7.6" text-anchor="middle" fill="#222">PL Intensity (arb. units.)</text>
<text x="3.7" y="174.7" font-size="9.4" text-anchor="start" fill="#222">c</text>
<text x="54.8" y="198.5" font-size="7.3" text-anchor="start" fill="#222">2.57 μW</text>
<text x="54.8" y="261.3" font-size="7.3" text-anchor="start" fill="#222">0.04 μW</text>
<line x1="67.5" y1="206.8" x2="67.5" y2="244" stroke="#555" stroke-width="0.9"/>
<path d="M65.1,243 L69.9,243 L67.5,248.6 Z" fill="#555"/>
<line x1="267.1" y1="175.9" x2="441.1" y2="175.9" stroke="#1a1a1a" stroke-width="1.0"/>
<line x1="267.1" y1="321.25" x2="441.1" y2="321.25" stroke="#1a1a1a" stroke-width="1.0"/>
<line x1="267.6" y1="175.9" x2="267.6" y2="321.25" stroke="#1a1a1a" stroke-width="1.0"/>
<line x1="440.6" y1="175.9" x2="440.6" y2="321.25" stroke="#1a1a1a" stroke-width="1.0"/>
<line x1="268.05" y1="321.25" x2="268.05" y2="319.45" stroke="#111" stroke-width="0.9"/>
<line x1="281.94" y1="321.25" x2="281.94" y2="319.45" stroke="#111" stroke-width="0.9"/>
<line x1="291.8" y1="321.25" x2="291.8" y2="319.45" stroke="#111" stroke-width="0.9"/>
<line x1="299.45" y1="321.25" x2="299.45" y2="319.45" stroke="#111" stroke-width="0.9"/>
<line x1="305.7" y1="321.25" x2="305.7" y2="319.45" stroke="#111" stroke-width="0.9"/>
<line x1="310.98" y1="321.25" x2="310.98" y2="319.45" stroke="#111" stroke-width="0.9"/>
<line x1="315.55" y1="321.25" x2="315.55" y2="319.45" stroke="#111" stroke-width="0.9"/>
<line x1="319.59" y1="321.25" x2="319.59" y2="319.45" stroke="#111" stroke-width="0.9"/>
<line x1="323.2" y1="321.25" x2="323.2" y2="318.25" stroke="#111" stroke-width="0.9"/>
<line x1="346.95" y1="321.25" x2="346.95" y2="319.45" stroke="#111" stroke-width="0.9"/>
<line x1="360.84" y1="321.25" x2="360.84" y2="319.45" stroke="#111" stroke-width="0.9"/>
<line x1="370.7" y1="321.25" x2="370.7" y2="319.45" stroke="#111" stroke-width="0.9"/>
<line x1="378.35" y1="321.25" x2="378.35" y2="319.45" stroke="#111" stroke-width="0.9"/>
<line x1="384.6" y1="321.25" x2="384.6" y2="319.45" stroke="#111" stroke-width="0.9"/>
<line x1="389.88" y1="321.25" x2="389.88" y2="319.45" stroke="#111" stroke-width="0.9"/>
<line x1="394.45" y1="321.25" x2="394.45" y2="319.45" stroke="#111" stroke-width="0.9"/>
<line x1="398.49" y1="321.25" x2="398.49" y2="319.45" stroke="#111" stroke-width="0.9"/>
<line x1="402.1" y1="321.25" x2="402.1" y2="318.25" stroke="#111" stroke-width="0.9"/>
<line x1="425.85" y1="321.25" x2="425.85" y2="319.45" stroke="#111" stroke-width="0.9"/>
<line x1="439.74" y1="321.25" x2="439.74" y2="319.45" stroke="#111" stroke-width="0.9"/>
<line x1="267.6" y1="310.84" x2="269.4" y2="310.84" stroke="#111" stroke-width="0.9"/>
<line x1="267.6" y1="303.23" x2="269.4" y2="303.23" stroke="#111" stroke-width="0.9"/>
<line x1="267.6" y1="297.33" x2="269.4" y2="297.33" stroke="#111" stroke-width="0.9"/>
<line x1="267.6" y1="292.51" x2="269.4" y2="292.51" stroke="#111" stroke-width="0.9"/>
<line x1="267.6" y1="288.43" x2="269.4" y2="288.43" stroke="#111" stroke-width="0.9"/>
<line x1="267.6" y1="284.9" x2="269.4" y2="284.9" stroke="#111" stroke-width="0.9"/>
<line x1="267.6" y1="281.79" x2="269.4" y2="281.79" stroke="#111" stroke-width="0.9"/>
<line x1="267.6" y1="279" x2="270.6" y2="279" stroke="#111" stroke-width="0.9"/>
<line x1="267.6" y1="260.67" x2="269.4" y2="260.67" stroke="#111" stroke-width="0.9"/>
<line x1="267.6" y1="249.94" x2="269.4" y2="249.94" stroke="#111" stroke-width="0.9"/>
<line x1="267.6" y1="242.33" x2="269.4" y2="242.33" stroke="#111" stroke-width="0.9"/>
<line x1="267.6" y1="236.43" x2="269.4" y2="236.43" stroke="#111" stroke-width="0.9"/>
<line x1="267.6" y1="231.61" x2="269.4" y2="231.61" stroke="#111" stroke-width="0.9"/>
<line x1="267.6" y1="227.53" x2="269.4" y2="227.53" stroke="#111" stroke-width="0.9"/>
<line x1="267.6" y1="224" x2="269.4" y2="224" stroke="#111" stroke-width="0.9"/>
<line x1="267.6" y1="220.89" x2="269.4" y2="220.89" stroke="#111" stroke-width="0.9"/>
<line x1="267.6" y1="218.1" x2="270.6" y2="218.1" stroke="#111" stroke-width="0.9"/>
<line x1="267.6" y1="199.77" x2="269.4" y2="199.77" stroke="#111" stroke-width="0.9"/>
<line x1="267.6" y1="189.04" x2="269.4" y2="189.04" stroke="#111" stroke-width="0.9"/>
<line x1="267.6" y1="181.43" x2="269.4" y2="181.43" stroke="#111" stroke-width="0.9"/>
<line x1="287" y1="295.4" x2="423.9" y2="185.6" stroke="#444" stroke-width="1.0"/>
<line x1="287" y1="305.7" x2="423.9" y2="188.8" stroke="#f03c3c" stroke-width="1.0"/>
<rect x="285.3" y="300.5" width="3.6" height="3.6" fill="#444"/>
<circle cx="287.1" cy="306.7" r="2.3" fill="#f03c3c"/>
<rect x="310.8" y="289.2" width="3.6" height="3.6" fill="#444"/>
<circle cx="312.6" cy="295.9" r="2.3" fill="#f03c3c"/>
<rect x="339" y="253" width="3.6" height="3.6" fill="#444"/>
<circle cx="340.8" cy="261.7" r="2.3" fill="#f03c3c"/>
<rect x="396.4" y="203.7" width="3.6" height="3.6" fill="#444"/>
<circle cx="398.2" cy="210.1" r="2.3" fill="#f03c3c"/>
<rect x="422.1" y="183.8" width="3.6" height="3.6" fill="#444"/>
<circle cx="423.9" cy="188.8" r="2.3" fill="#f03c3c"/>
<rect x="277" y="183.3" width="3.6" height="3.6" fill="#444"/>
<circle cx="278.8" cy="196.1" r="2.3" fill="#f03c3c"/>
<text x="285.8" y="187.8" font-size="8" text-anchor="start" fill="#222">Main exciton peak</text>
<text x="285.8" y="198.5" font-size="8" text-anchor="start" fill="#222">Red-shifted peak</text>
<text x="264.8" y="220.7" font-size="7.2" text-anchor="end" fill="#222">10<tspan font-size="5" dy="-3.4">3</tspan></text>
<text x="264.8" y="281.6" font-size="7.2" text-anchor="end" fill="#222">10<tspan font-size="5" dy="-3.4">2</tspan></text>
<text x="323.4" y="332" font-size="7.2" text-anchor="middle" fill="#222">10<tspan font-size="5" dy="-3.4">2</tspan></text>
<text x="402.3" y="332" font-size="7.2" text-anchor="middle" fill="#222">10<tspan font-size="5" dy="-3.4">3</tspan></text>
<text x="358.8" y="342.6" font-size="8" text-anchor="middle" fill="#222">Excitation power (nW)</text>
<text transform="translate(247.6,246.2) rotate(-90)" font-size="7.9" text-anchor="middle" fill="#222">PL intensity (arb. units)</text>
<text x="240.3" y="174.7" font-size="9.4" text-anchor="start" fill="#222">d</text>
<text x="331.5" y="233.1" font-size="9.8" fill="#222" font-style="italic">I ~ L<tspan font-size="6.2" font-style="normal" dy="-6.4" dx="0.2">1.05</tspan></text>
<text x="357.8" y="254.4" font-size="9.8" fill="#f03c3c" font-style="italic">I ~ L<tspan font-size="6.2" font-style="normal" dy="-6.4" dx="0.2">1.11</tspan></text>
<line x1="531.5" y1="18.5" x2="531.5" y2="303.5" stroke="#555" stroke-width="0.9" stroke-dasharray="3,2"/>
<line x1="566.5" y1="18.5" x2="566.5" y2="218.5" stroke="#555" stroke-width="0.9" stroke-dasharray="3,2"/>
<line x1="592.3" y1="18.5" x2="592.3" y2="218.5" stroke="#555" stroke-width="0.9" stroke-dasharray="3,2"/>
<line x1="610.5" y1="18.5" x2="610.5" y2="218.5" stroke="#555" stroke-width="0.9" stroke-dasharray="3,2"/>
<rect x="545.5" y="7.2" width="110" height="308.1" fill="none" stroke="#777" stroke-width="0.9"/>
<path d="M491.02,151.30 L501.43,151.12 L504.40,150.77 L505.59,150.33 L506.18,149.97 L506.78,149.36 L507.97,147.31 L508.86,144.94 L509.75,141.24 L510.35,137.29 L510.64,134.19 L511.53,122.08 L512.13,111.80 L513.02,91.54 L513.91,60.53 L514.80,33.77 L515.10,26.78 L515.40,22.89 L515.70,22.87 L515.99,24.99 L516.59,33.40 L518.07,62.04 L519.26,88.08 L520.16,100.21 L521.64,114.83 L524.02,132.71 L524.91,137.52 L525.51,140.03 L525.80,140.83 L526.10,141.12 L526.40,141.03 L526.69,140.78 L527.29,139.94 L528.48,137.61 L529.96,133.09 L530.86,131.59 L531.15,131.25 L531.45,131.08 L531.75,131.26 L532.05,131.89 L535.02,141.88 L535.91,143.78 L536.50,144.79 L537.69,146.21 L539.18,147.46 L540.67,148.27 L543.04,149.29 L545.12,149.98 L547.20,150.43 L553.45,150.94 L567.12,151.20 L584.96,151.30" fill="none" stroke="#5f8cf5" stroke-width="1.4" stroke-linejoin="round" stroke-linecap="round"/>
<path d="M520.51,151.30 L534.19,151.23 L541.32,151.08 L545.48,150.68 L546.97,150.29 L548.45,149.70 L549.35,149.09 L550.53,147.89 L551.13,147.16 L552.02,145.72 L552.91,144.04 L554.99,139.30 L556.78,135.62 L557.97,132.71 L558.56,130.88 L559.15,128.55 L560.05,123.33 L561.24,114.29 L562.42,101.97 L563.02,93.91 L563.91,78.16 L566.29,27.70 L566.59,23.66 L566.88,22.56 L567.18,24.47 L568.07,36.37 L568.37,38.76 L569.26,44.26 L569.56,45.40 L569.86,45.93 L570.15,45.74 L570.45,45.00 L571.64,39.88 L573.13,34.32 L573.72,32.65 L574.02,32.23 L574.31,32.26 L574.61,33.34 L575.21,37.97 L576.39,50.00 L577.88,68.62 L579.96,92.72 L581.45,105.49 L582.64,113.71 L583.23,116.97 L584.12,120.81 L585.02,123.98 L585.91,126.71 L587.99,132.50 L589.47,136.28 L590.66,138.84 L592.45,141.85 L593.64,143.51 L594.53,144.48 L596.61,145.87 L598.09,146.60 L599.58,147.15 L603.15,147.90 L616.52,149.51 L621.87,150.00 L634.95,150.63 L651.60,151.04" fill="none" stroke="#2e8b35" stroke-width="1.4" stroke-linejoin="round" stroke-linecap="round"/>
<path d="M550.12,151.30 L558.14,151.18 L568.25,150.81 L571.82,150.49 L573.01,150.19 L573.90,149.83 L575.68,148.72 L576.28,147.96 L578.36,143.54 L581.33,135.98 L582.52,131.98 L583.11,129.05 L584.30,120.92 L585.19,113.14 L586.38,99.78 L587.87,76.68 L589.36,59.32 L590.54,41.31 L591.44,32.80 L591.73,31.56 L592.03,32.04 L593.22,39.32 L593.52,40.49 L593.81,40.12 L594.11,38.70 L595.00,32.80 L596.49,24.74 L597.08,22.78 L597.38,22.50 L597.68,22.84 L598.27,25.18 L599.76,34.82 L600.35,39.57 L601.84,53.96 L603.33,71.74 L605.11,90.72 L606.00,98.49 L606.89,104.53 L607.78,109.62 L608.97,115.54 L609.87,119.50 L610.76,122.78 L611.65,125.36 L612.84,128.25 L614.32,131.34 L615.81,134.14 L617.30,136.57 L619.08,138.88 L621.16,141.14 L622.94,142.70 L625.02,144.12 L627.40,145.43 L631.86,147.52 L634.54,148.55 L636.91,149.19 L639.00,149.63 L645.54,150.30 L658.91,150.95 L669.61,151.17" fill="none" stroke="#fa7a50" stroke-width="1.4" stroke-linejoin="round" stroke-linecap="round"/>
<path d="M579.84,151.30 L583.41,151.07 L586.38,150.66 L587.57,150.40 L589.36,149.83 L591.44,148.99 L592.62,148.40 L593.52,147.81 L594.41,147.03 L595.00,146.28 L595.60,145.34 L596.49,143.62 L597.08,142.28 L597.68,140.59 L598.57,137.20 L600.06,130.47 L600.95,125.71 L601.84,120.00 L602.73,112.50 L604.81,90.96 L606.00,77.33 L608.97,33.29 L609.87,25.26 L610.16,23.42 L610.46,22.53 L610.76,23.23 L611.35,29.20 L612.84,50.84 L613.73,57.93 L614.03,59.33 L614.32,59.85 L614.62,59.11 L615.22,54.45 L615.81,48.26 L616.70,35.76 L617.00,32.80 L617.59,29.26 L617.89,28.09 L618.19,27.65 L618.49,29.04 L618.78,32.54 L619.38,41.82 L620.57,66.20 L621.16,75.80 L622.05,86.77 L622.94,93.76 L623.54,96.95 L624.43,100.10 L625.32,102.42 L626.81,105.71 L632.75,122.66 L634.54,127.28 L635.73,130.06 L636.62,131.80 L638.10,134.17 L639.59,136.13 L641.08,137.80 L642.86,139.50 L644.94,141.24 L647.02,142.78 L649.40,144.32 L653.26,146.47 L656.53,147.93 L658.91,148.84 L660.99,149.44 L664.86,150.34 L667.23,150.76 L669.61,151.03" fill="none" stroke="#f0284f" stroke-width="1.4" stroke-linejoin="round" stroke-linecap="round"/>
<path d="M476.40,310.80 L487.40,310.73 L497.50,310.52 L500.18,310.28 L502.86,309.79 L503.75,309.55 L504.64,309.15 L505.53,308.58 L506.42,307.83 L507.02,307.05 L507.61,305.97 L508.50,303.73 L509.10,301.19 L509.69,297.25 L509.99,294.68 L510.29,290.72 L511.48,262.21 L512.96,213.37 L513.56,197.99 L514.15,188.48 L514.75,180.82 L515.04,178.23 L515.34,176.76 L515.64,176.67 L515.93,178.46 L516.23,181.75 L517.42,200.17 L520.10,254.84 L520.99,268.61 L521.58,276.31 L522.18,281.66 L523.07,286.64 L523.66,289.01 L524.26,290.84 L525.45,293.50 L526.64,295.41 L527.23,296.10 L527.82,296.42 L529.61,296.87 L530.50,297.19 L531.39,297.62 L531.99,298.04 L532.58,298.91 L534.96,303.44 L535.85,304.42 L536.74,305.18 L538.53,306.35 L541.20,307.72 L543.58,308.68 L545.96,309.38 L547.44,309.69 L549.52,309.89 L556.06,310.25 L575.09,310.66 L592.03,310.80" fill="none" stroke="#5f8cf5" stroke-width="1.4" stroke-linejoin="round" stroke-linecap="round"/>
<path d="M520.39,310.80 L523.66,310.80 L527.82,310.55 L532.28,310.19 L536.15,309.74 L539.12,309.27 L541.79,308.69 L544.17,307.99 L546.25,307.19 L548.04,306.29 L549.52,305.32 L551.01,304.09 L552.20,302.84 L553.39,301.28 L554.58,299.29 L555.47,297.43 L556.36,295.14 L557.25,292.29 L557.85,289.99 L558.74,285.78 L559.33,282.33 L560.52,273.32 L561.41,264.09 L562.31,252.01 L563.20,236.51 L565.58,186.14 L566.17,178.52 L566.47,176.79 L566.76,176.55 L567.06,177.16 L567.36,178.42 L567.66,180.30 L568.25,185.70 L569.14,196.80 L571.22,226.89 L572.41,242.13 L573.60,254.73 L575.09,267.00 L575.98,272.81 L576.87,277.68 L577.76,281.78 L578.65,285.23 L579.55,288.17 L580.73,291.42 L581.92,294.08 L583.41,296.76 L584.90,298.90 L586.68,300.93 L588.46,302.53 L590.54,303.99 L592.92,305.29 L595.60,306.41 L598.57,307.35 L601.84,308.13 L606.00,308.86 L610.76,309.47 L616.11,309.96 L622.65,310.37 L632.75,310.80 L651.78,310.80" fill="none" stroke="#2e8b35" stroke-width="1.4" stroke-linejoin="round" stroke-linecap="round"/>
<path d="M550.12,310.80 L575.98,310.80 L576.28,310.73 L576.87,310.25 L577.76,309.20 L578.65,307.61 L579.55,305.28 L580.14,303.19 L580.73,300.60 L581.63,295.58 L582.52,289.02 L583.41,280.76 L584.30,270.73 L585.19,259.04 L588.46,209.16 L589.65,193.28 L590.54,184.23 L591.14,179.99 L591.73,177.38 L592.03,176.72 L592.33,176.50 L592.62,176.72 L592.92,177.39 L593.22,178.48 L593.81,181.87 L594.41,186.64 L595.30,195.70 L597.68,223.71 L599.16,239.65 L600.65,252.91 L602.14,263.52 L603.03,268.79 L603.92,273.35 L604.81,277.30 L606.00,281.78 L606.89,284.63 L608.08,287.89 L609.27,290.63 L610.76,293.47 L612.24,295.80 L614.03,298.08 L615.81,299.92 L617.89,301.64 L619.97,303.03 L622.35,304.30 L625.02,305.43 L628.00,306.42 L631.27,307.27 L634.83,307.99 L639.00,308.64 L643.75,309.20 L649.10,309.67 L655.05,310.07 L669.61,310.68" fill="none" stroke="#fa7a50" stroke-width="1.4" stroke-linejoin="round" stroke-linecap="round"/>
<path d="M579.84,309.65 L584.60,308.79 L586.68,308.25 L588.46,307.67 L589.95,307.08 L591.44,306.34 L592.62,305.61 L593.81,304.68 L594.71,303.80 L595.60,302.70 L596.49,301.30 L597.08,300.13 L598.27,297.05 L599.46,292.61 L600.35,288.08 L601.25,282.27 L602.14,274.98 L602.73,269.22 L603.62,259.19 L604.51,247.54 L607.49,202.12 L608.38,189.94 L608.97,183.49 L609.57,178.95 L609.87,177.52 L610.16,176.70 L610.46,176.51 L610.76,176.75 L611.05,177.33 L611.65,179.48 L612.24,182.83 L612.84,187.19 L614.03,198.10 L617.59,234.39 L618.78,244.67 L620.27,255.61 L621.76,264.57 L623.24,271.83 L625.02,278.76 L626.81,284.18 L628.00,287.13 L629.19,289.67 L630.38,291.86 L631.56,293.75 L633.05,295.78 L634.54,297.50 L636.32,299.23 L638.10,300.68 L640.18,302.08 L642.27,303.24 L644.64,304.33 L647.02,305.23 L649.70,306.07 L652.67,306.83 L655.94,307.51 L659.51,308.10" fill="none" stroke="#f0284f" stroke-width="1.4" stroke-linejoin="round" stroke-linecap="round"/>
<line x1="476.1" y1="4.65" x2="685" y2="4.65" stroke="#1a1a1a" stroke-width="1.0"/>
<line x1="476.1" y1="321.8" x2="685" y2="321.8" stroke="#1a1a1a" stroke-width="1.0"/>
<line x1="476.6" y1="4.65" x2="476.6" y2="321.8" stroke="#1a1a1a" stroke-width="1.0"/>
<line x1="684.5" y1="4.65" x2="684.5" y2="321.8" stroke="#1a1a1a" stroke-width="1.0"/>
<line x1="476.6" y1="163.45" x2="684.5" y2="163.45" stroke="#1a1a1a" stroke-width="1"/>
<line x1="491.26" y1="163.45" x2="491.26" y2="159.95" stroke="#111" stroke-width="0.9"/>
<line x1="491.26" y1="321.8" x2="491.26" y2="318.3" stroke="#111" stroke-width="0.9"/>
<line x1="506.12" y1="163.45" x2="506.12" y2="161.45" stroke="#111" stroke-width="0.9"/>
<line x1="506.12" y1="321.8" x2="506.12" y2="319.8" stroke="#111" stroke-width="0.9"/>
<line x1="520.99" y1="163.45" x2="520.99" y2="159.95" stroke="#111" stroke-width="0.9"/>
<line x1="520.99" y1="321.8" x2="520.99" y2="318.3" stroke="#111" stroke-width="0.9"/>
<line x1="535.85" y1="163.45" x2="535.85" y2="161.45" stroke="#111" stroke-width="0.9"/>
<line x1="535.85" y1="321.8" x2="535.85" y2="319.8" stroke="#111" stroke-width="0.9"/>
<line x1="550.71" y1="163.45" x2="550.71" y2="159.95" stroke="#111" stroke-width="0.9"/>
<line x1="550.71" y1="321.8" x2="550.71" y2="318.3" stroke="#111" stroke-width="0.9"/>
<line x1="565.58" y1="163.45" x2="565.58" y2="161.45" stroke="#111" stroke-width="0.9"/>
<line x1="565.58" y1="321.8" x2="565.58" y2="319.8" stroke="#111" stroke-width="0.9"/>
<line x1="580.44" y1="163.45" x2="580.44" y2="159.95" stroke="#111" stroke-width="0.9"/>
<line x1="580.44" y1="321.8" x2="580.44" y2="318.3" stroke="#111" stroke-width="0.9"/>
<line x1="595.3" y1="163.45" x2="595.3" y2="161.45" stroke="#111" stroke-width="0.9"/>
<line x1="595.3" y1="321.8" x2="595.3" y2="319.8" stroke="#111" stroke-width="0.9"/>
<line x1="610.16" y1="163.45" x2="610.16" y2="159.95" stroke="#111" stroke-width="0.9"/>
<line x1="610.16" y1="321.8" x2="610.16" y2="318.3" stroke="#111" stroke-width="0.9"/>
<line x1="625.02" y1="163.45" x2="625.02" y2="161.45" stroke="#111" stroke-width="0.9"/>
<line x1="625.02" y1="321.8" x2="625.02" y2="319.8" stroke="#111" stroke-width="0.9"/>
<line x1="639.89" y1="163.45" x2="639.89" y2="159.95" stroke="#111" stroke-width="0.9"/>
<line x1="639.89" y1="321.8" x2="639.89" y2="318.3" stroke="#111" stroke-width="0.9"/>
<line x1="654.75" y1="163.45" x2="654.75" y2="161.45" stroke="#111" stroke-width="0.9"/>
<line x1="654.75" y1="321.8" x2="654.75" y2="319.8" stroke="#111" stroke-width="0.9"/>
<line x1="669.61" y1="163.45" x2="669.61" y2="159.95" stroke="#111" stroke-width="0.9"/>
<line x1="669.61" y1="321.8" x2="669.61" y2="318.3" stroke="#111" stroke-width="0.9"/>
<text x="491.26" y="334.4" font-size="9" text-anchor="middle" fill="#222">450</text>
<text x="520.99" y="334.4" font-size="9" text-anchor="middle" fill="#222">500</text>
<text x="550.71" y="334.4" font-size="9" text-anchor="middle" fill="#222">550</text>
<text x="580.44" y="334.4" font-size="9" text-anchor="middle" fill="#222">600</text>
<text x="610.16" y="334.4" font-size="9" text-anchor="middle" fill="#222">650</text>
<text x="639.89" y="334.4" font-size="9" text-anchor="middle" fill="#222">700</text>
<text x="669.61" y="334.4" font-size="9" text-anchor="middle" fill="#222">750</text>
<text x="584.9" y="346.6" font-size="9.5" text-anchor="middle" fill="#222">Wavelength (nm)</text>
<text transform="translate(469.2,141.2) rotate(-90)" font-size="9" text-anchor="middle" fill="#222">Normalized intensity (arb. units)</text>
<text x="461.1" y="7" font-size="9.4" text-anchor="start" fill="#222">e</text>
<text x="481" y="15.5" font-size="7.3" text-anchor="start" fill="#222" font-style="italic">Phase</text>
<text x="481" y="24.3" font-size="7.3" text-anchor="start" fill="#222" font-style="italic">transition</text>
<line x1="512" y1="13.2" x2="535.3" y2="13.2" stroke="#111" stroke-width="1.1"/>
<path d="M507.2,13.2 L514.2,10.6 L512.8,13.2 L514.2,15.8 Z" fill="#111"/>
<text x="482.7" y="41.2" font-size="9" text-anchor="start" fill="#222">77 K</text>
<line x1="561" y1="13.2" x2="584" y2="13.2" stroke="#111" stroke-width="1.1"/>
<path d="M588.6,13.2 L581.6,10.6 L583,13.2 L581.6,15.8 Z" fill="#111"/>
<text x="592.4" y="15.9" font-size="8.3" text-anchor="start" fill="#222" font-style="italic">red shift</text>
<text x="548.2" y="24.6" font-size="8.4" font-style="italic" fill="#222" textLength="12.9" lengthAdjust="spacingAndGlyphs">NE</text>
<text x="561.3" y="27.8" font-size="6.6" fill="#222">1</text>
<text x="570.6" y="24.6" font-size="8.4" font-style="italic" fill="#222" textLength="12.9" lengthAdjust="spacingAndGlyphs">NE</text>
<text x="583.6" y="27.8" font-size="6.6" fill="#222">2</text>
<line x1="637.9" y1="14.1" x2="652.8" y2="14.1" stroke="#5f8cf5" stroke-width="1.3"/>
<text x="658.4" y="17.4" font-size="9" fill="#222"><tspan font-style="italic">n</tspan> = 1</text>
<line x1="637.9" y1="24.77" x2="652.8" y2="24.77" stroke="#2e8b35" stroke-width="1.3"/>
<text x="658.4" y="28.07" font-size="9" fill="#222"><tspan font-style="italic">n</tspan> = 2</text>
<line x1="637.9" y1="35.44" x2="652.8" y2="35.44" stroke="#fa7a50" stroke-width="1.3"/>
<text x="658.4" y="38.74" font-size="9" fill="#222"><tspan font-style="italic">n</tspan> = 3</text>
<line x1="637.9" y1="46.11" x2="652.8" y2="46.11" stroke="#f0284f" stroke-width="1.3"/>
<text x="658.4" y="49.41" font-size="9" fill="#222"><tspan font-style="italic">n</tspan> = 4</text>
</svg>
</body></html>
